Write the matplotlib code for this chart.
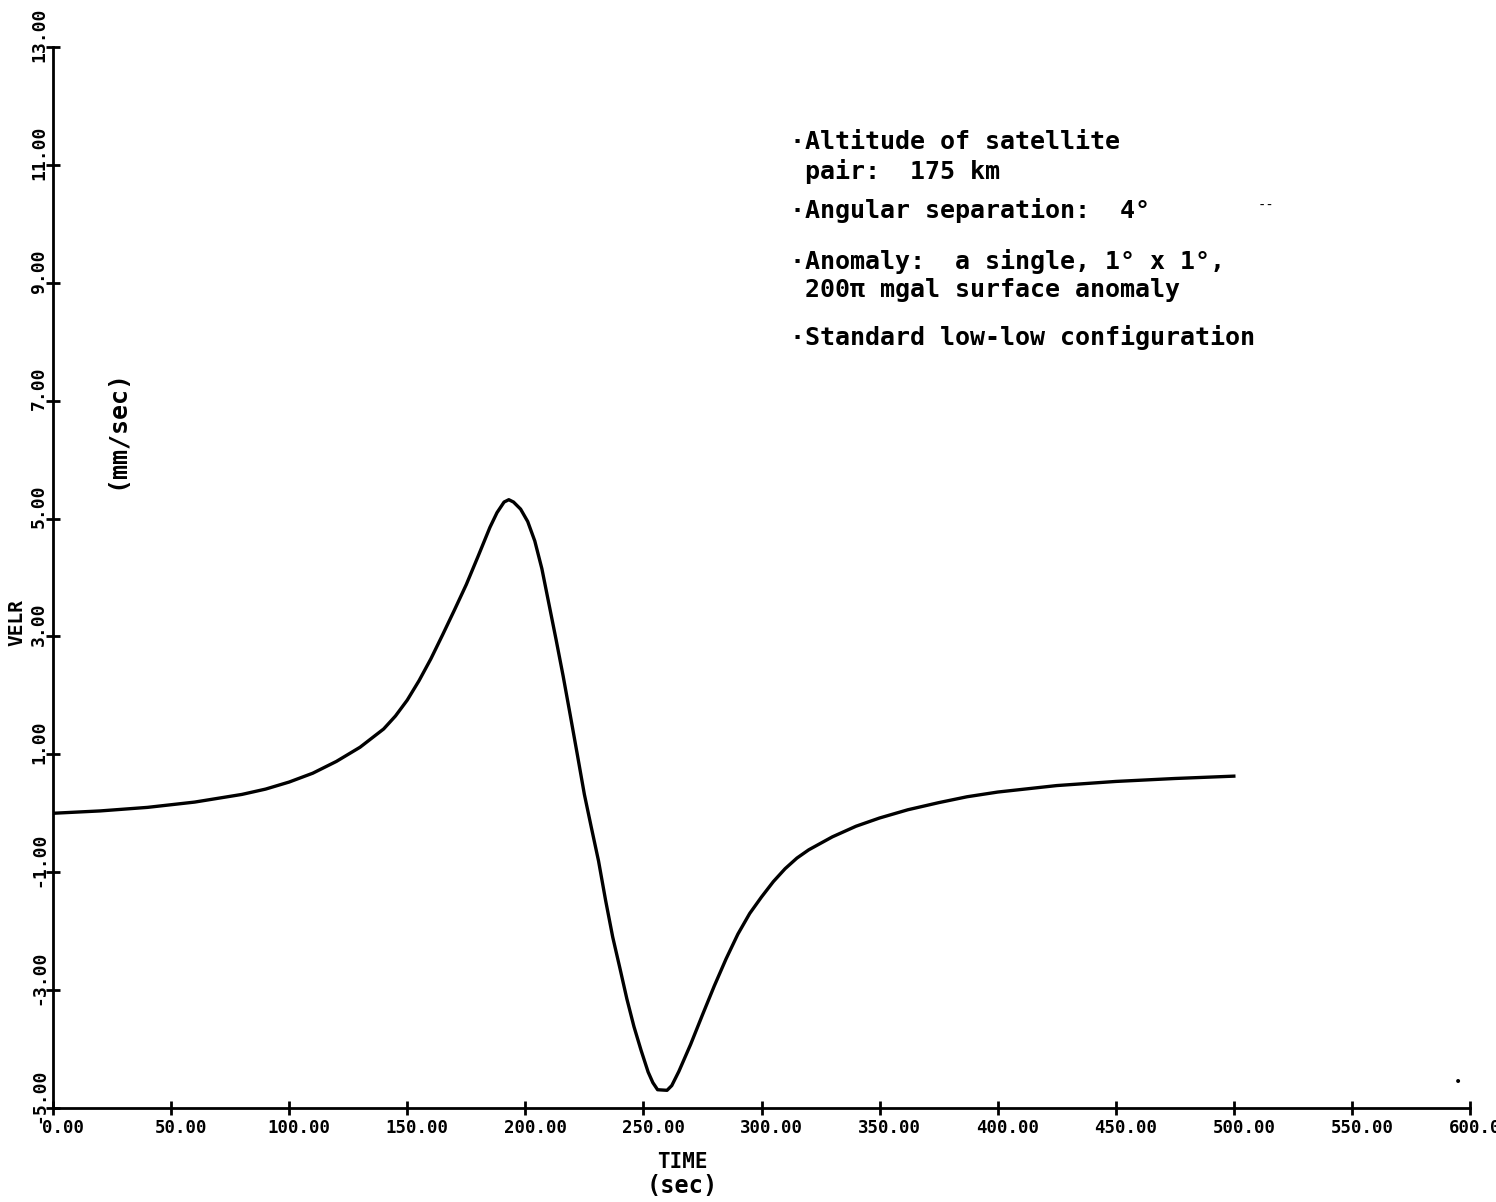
import numpy as np
import matplotlib
matplotlib.use("Agg")
import matplotlib.pyplot as plt
import matplotlib.transforms as mtransforms

# curve
time = [0, 20, 40, 60, 80, 90, 100, 110, 120, 130, 140, 145, 150, 155, 160,
        165, 170, 175, 180, 185, 188, 191, 193, 195, 198, 201, 204, 207, 210,
        213, 216, 219, 222, 225, 228, 231, 234, 237, 240, 243, 246, 249, 252,
        254, 256, 260, 262, 265, 270, 275, 280, 285, 290, 295, 300, 305, 310,
        315, 320, 330, 340, 350, 362, 375, 387, 400, 425, 450, 475, 500]
velr = [0.0, 0.04, 0.10, 0.19, 0.32, 0.41, 0.53, 0.68, 0.88, 1.12, 1.43, 1.65,
        1.92, 2.25, 2.62, 3.03, 3.45, 3.88, 4.36, 4.85, 5.10, 5.28, 5.32, 5.28,
        5.16, 4.95, 4.62, 4.15, 3.55, 2.95, 2.33, 1.67, 1.00, 0.32, -0.25,
        -0.81, -1.48, -2.10, -2.62, -3.15, -3.62, -4.02, -4.39, -4.57, -4.69,
        -4.70, -4.62, -4.38, -3.92, -3.42, -2.93, -2.47, -2.05, -1.70, -1.42,
        -1.16, -0.94, -0.76, -0.62, -0.40, -0.22, -0.08, 0.06, 0.18, 0.28,
        0.36, 0.47, 0.54, 0.59, 0.63]

xticks = np.arange(0, 601, 50)
yticks = np.arange(-5, 14, 2)

notes = ["\u00b7Altitude of satellite",
         " pair:  175 km",
         "\u00b7Angular separation:  4\u00b0",
         "\u00b7Anomaly:  a single, 1\u00b0 x 1\u00b0,",
         " 200\u03c0 mgal surface anomaly",
         "\u00b7Standard low-low configuration"]
note_px = [142, 172, 210, 262, 290, 337]

mono = "DejaVu Sans Mono"

fig = plt.figure(figsize=(14.96, 12.02), dpi=100)
ax = fig.add_axes([53/1496, 1 - 1108/1202, 1417/1496, 1061/1202])

ax.plot(time, velr, color="black", lw=2.4, solid_joinstyle="round")

ax.set_xlim(0, 600)
ax.set_ylim(-5, 13)
ax.spines["top"].set_visible(False)
ax.spines["right"].set_visible(False)
ax.spines["left"].set_linewidth(2.0)
ax.spines["bottom"].set_linewidth(2.0)

ax.set_xticks(xticks)
ax.set_xticklabels([f"{v:.2f}" for v in xticks], fontfamily=mono,
                   fontweight="bold", fontsize=12.5)
ax.set_yticks(yticks)
ax.set_yticklabels([f"{v:.2f}" for v in yticks], fontfamily=mono,
                   fontweight="bold", fontsize=13, rotation=90, va="center")
ax.tick_params(axis="both", direction="inout", length=10, width=2, color="black")
ax.tick_params(axis="x", pad=3)
ax.tick_params(axis="y", pad=0)

# labels sit a little off their ticks on the original
for lab in ax.get_xticklabels():
    lab.set_transform(lab.get_transform() +
                      mtransforms.ScaledTranslation(0.10, 0, fig.dpi_scale_trans))
for lab in ax.get_yticklabels():
    lab.set_transform(lab.get_transform() +
                      mtransforms.ScaledTranslation(0.02, 0.12, fig.dpi_scale_trans))

fig.text(17/1496, 1 - 623/1202, "VELR", rotation=90, ha="center", va="center",
         fontfamily=mono, fontweight="bold", fontsize=14)
fig.text(116/1496, 1 - 429/1202, "(mm/sec)", rotation=90, ha="center", va="center",
         fontfamily=mono, fontweight="bold", fontsize=18)
fig.text(682/1496, 1 - 1162/1202, "TIME", ha="center", va="center",
         fontfamily=mono, fontweight="bold", fontsize=15)
fig.text(682/1496, 1 - 1186/1202, "(sec)", ha="center", va="center",
         fontfamily=mono, fontweight="bold", fontsize=17)

for txt, py in zip(notes, note_px):
    fig.text(790/1496, 1 - py/1202, txt, ha="left", va="center",
             fontfamily=mono, fontweight="bold", fontsize=18)

# scan specks
fig.text(1266/1496, 1 - 206/1202, "--", ha="center", va="center",
         fontfamily=mono, fontsize=10)
fig.text(1458/1496, 1 - 1082/1202, "\u2022", ha="center", va="center",
         fontfamily=mono, fontsize=10)

fig.savefig("out.png", dpi=100)
